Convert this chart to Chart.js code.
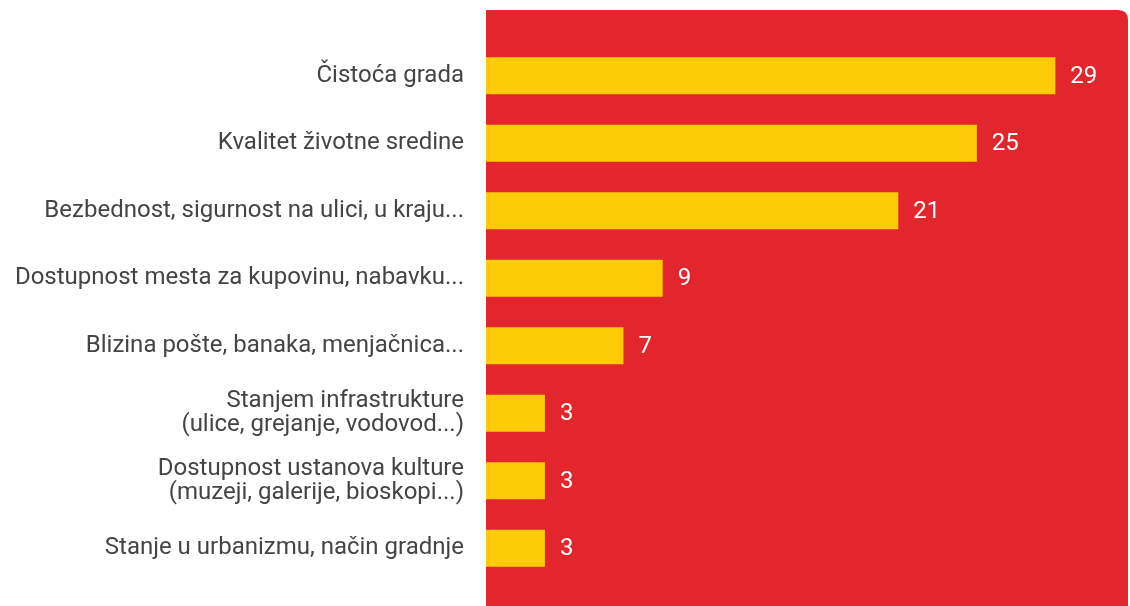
<!DOCTYPE html>
<html>
<head>
<meta charset="utf-8">
<script src="https://cdn.jsdelivr.net/npm/chart.js@4.4.0/dist/chart.umd.min.js"></script>
<style>
  body { margin: 0; background: #fff; }
  #wrap { width: 1130px; height: 606px; position: relative; }
</style>
</head>
<body>
<div id="wrap"><canvas id="myChart"></canvas></div>
<script>
const kategorije = [
    'Čistoća grada',
    'Kvalitet životne sredine',
    'Bezbednost, sigurnost na ulici, u kraju...',
    'Dostupnost mesta za kupovinu, nabavku...',
    'Blizina pošte, banaka, menjačnica...',
    ['Stanjem infrastrukture', '(ulice, grejanje, vodovod...)'],
    ['Dostupnost ustanova kulture', '(muzeji, galerije, bioskopi...)'],
    'Stanje u urbanizmu, način gradnje'
]
const vrednosti = [29, 25, 21, 9, 7, 3, 3, 3]
const maxX = 32.7

const bojaPozadine = '#e3262d'
const bojaStubica = '#fdcb0a'

// crvena pozadina iza grafika
const pozadina = {
    id: 'pozadina',
    beforeDraw(chart) {
        const ctx = chart.ctx
        const x0 = chart.scales.x.left
        const x1 = chart.width - 2
        const y0 = 10
        const y1 = chart.height
        const r = 10
        ctx.save()
        ctx.fillStyle = bojaPozadine
        ctx.beginPath()
        ctx.moveTo(x0, y0)
        ctx.lineTo(x1 - r, y0)
        ctx.quadraticCurveTo(x1, y0, x1, y0 + r)
        ctx.lineTo(x1, y1)
        ctx.lineTo(x0, y1)
        ctx.closePath()
        ctx.fill()
        ctx.restore()
    }
}

// brojevi pored stubica
const oznake = {
    id: 'oznake',
    afterDatasetsDraw(chart) {
        const ctx = chart.ctx
        const meta = chart.getDatasetMeta(0)
        ctx.save()
        ctx.fillStyle = '#ffffff'
        ctx.font = '24px Roboto'
        ctx.textAlign = 'left'
        ctx.textBaseline = 'middle'
        meta.data.forEach((bar, i) => {
            ctx.fillText(vrednosti[i], bar.x + 15, bar.y + 1)
        })
        ctx.restore()
    }
}

function chartConfig() {
    const config = {
        type: 'bar',
        data: {
            labels: kategorije,
            datasets: [
                {
                    data: vrednosti,
                    backgroundColor: bojaStubica,
                    borderWidth: 0,
                    categoryPercentage: 1,
                    barPercentage: 0.547
                }
            ]
        },
        options: {
            indexAxis: 'y',
            responsive: true,
            maintainAspectRatio: false,
            animation: false,
            layout: { padding: { top: 42, bottom: 24, left: 0, right: 2 } },
            plugins: {
                legend: { display: false },
                tooltip: { enabled: false }
            },
            scales: {
                x: {
                    display: false,
                    min: 0,
                    max: maxX
                },
                y: {
                    grid: { display: false, drawTicks: false },
                    border: { display: false },
                    ticks: {
                        color: '#444444',
                        font: { family: 'Roboto', size: 24, lineHeight: 1.02 },
                        padding: 22
                    },
                    afterFit(scale) {
                        scale.width = 486
                        scale.paddingTop = 0
                        scale.paddingBottom = 0
                    }
                }
            }
        },
        plugins: [pozadina, oznake]
    }
    return config
}

new Chart(document.getElementById('myChart'), chartConfig())
</script>
</body>
</html>
